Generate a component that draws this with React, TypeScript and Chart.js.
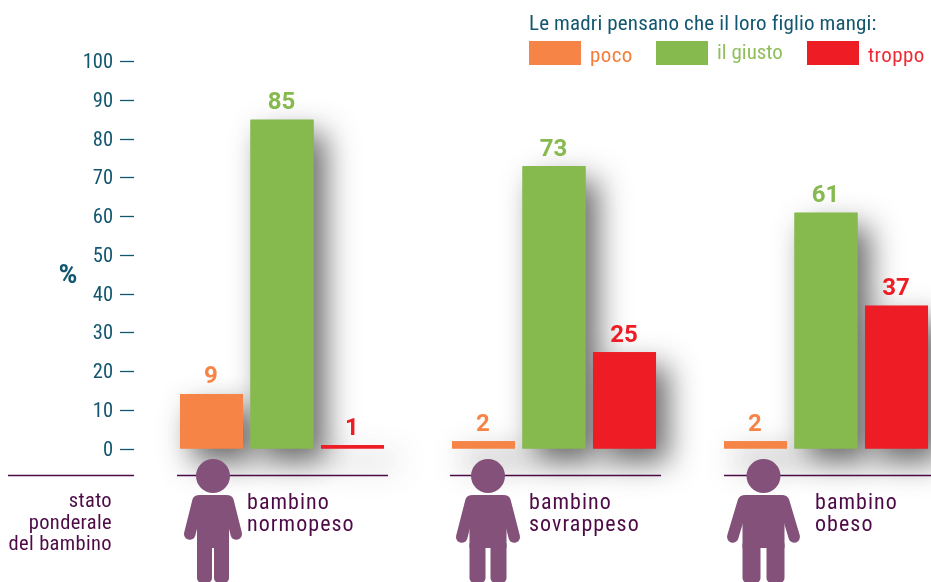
import React, { useEffect, useRef } from "react";
import { Chart, registerables } from "chart.js";

Chart.register(...registerables);

const groupPositions = [1, 2, 3];
const seriesNames = ["poco", "il giusto", "troppo"];
// Bar heights as drawn in the picture (the first orange bar is drawn taller than its printed "9").
const pocoValues = [14.2, 2, 2];
const giustoValues = [85, 73, 61];
const troppoValues = [1, 25, 37];
// Numbers as printed above the bars.
const pocoLabels = [9, 2, 2];
const giustoLabels = [85, 73, 61];
const troppoLabels = [1, 25, 37];
const printedLabels = [pocoLabels, giustoLabels, troppoLabels];
const seriesColors = ["#f68446", "#86b94e", "#ee1d25"];
const legendTextColors = ["#f47c3c", "#8fbf5a", "#ee2a35"];
const yTickMax = 100;
const yTickStep = 10;
const legendTitle = "Le madri pensano che il loro figlio mangi:";
const yTitle = "%";
const rowTitle = ["stato", "ponderale", "del bambino"];
const groupLabels = [
  ["bambino", "normopeso"],
  ["bambino", "sovrappeso"],
  ["bambino", "obeso"],
];

const TEAL = "#12566f";
const PURPLE = "#4d0a47";
const FIGURE = "#84517a";
const NARROW = '"Roboto Condensed", "Liberation Sans Narrow", sans-serif';
const BOLD = 'Roboto, "Liberation Sans", sans-serif';

const groupStep = 272;
const firstCenter = 282;
const plotLeft = 134;
const plotRight = 931;

const labelOffsets = [-35, -25, -11];
const baselineSpans = [
  [8, 134],
  [177, 388],
  [450, 661],
  [724, 931],
];
const figures = [
  { cx: 213, sh: 19, arm: 29, torso: 16, gap: 1, hand: 534 },
  { cx: 488, sh: 21, arm: 32, torso: 18.5, gap: 2.5, hand: 537 },
  { cx: 763.5, sh: 24, arm: 36.5, torso: 21, gap: 3, hand: 537 },
];

function drawFigure(ctx: CanvasRenderingContext2D, f: (typeof figures)[number]) {
  ctx.save();
  ctx.fillStyle = FIGURE;
  ctx.strokeStyle = FIGURE;
  ctx.beginPath();
  ctx.arc(f.cx, 476, 17, 0, Math.PI * 2);
  ctx.fill();
  ctx.beginPath();
  ctx.roundRect(f.cx - f.sh, 495, f.sh * 2, 16, 6);
  ctx.fill();
  ctx.fillRect(f.cx - f.torso, 500, f.torso * 2, 48);
  ctx.lineWidth = 11.5;
  ctx.lineCap = "round";
  for (const s of [-1, 1]) {
    ctx.beginPath();
    ctx.moveTo(f.cx + s * (f.sh - 4), 501);
    ctx.lineTo(f.cx + s * (f.arm - 5.75), f.hand);
    ctx.stroke();
  }
  for (const s of [-1, 1]) {
    const x = s < 0 ? f.cx - f.torso : f.cx + f.gap;
    const w = f.torso - f.gap;
    ctx.beginPath();
    ctx.roundRect(x, 540, w, 43, 5);
    ctx.fill();
  }
  ctx.restore();
}

function text(
  ctx: CanvasRenderingContext2D,
  s: string,
  x: number,
  y: number,
  font: string,
  color: string,
  align: CanvasTextAlign = "left",
  spacing = "0px",
) {
  ctx.font = font;
  ctx.fillStyle = color;
  ctx.textAlign = align;
  ctx.textBaseline = "alphabetic";
  (ctx as any).letterSpacing = spacing;
  ctx.fillText(s, x, y);
  (ctx as any).letterSpacing = "0px";
}

const shadowPlugin = {
  id: "barShadows",
  beforeDatasetsDraw(chart: any) {
    const ctx = chart.ctx;
    ctx.save();
    ctx.shadowColor = "rgba(40,40,40,0.7)";
    ctx.shadowBlur = 30;
    ctx.shadowOffsetX = 12;
    ctx.shadowOffsetY = 14;
    chart.data.datasets.forEach((ds: any, i: number) => {
      chart.getDatasetMeta(i).data.forEach((bar: any) => {
        ctx.fillStyle = seriesColors[i];
        ctx.fillRect(bar.x - bar.width / 2, bar.y, bar.width, bar.base - bar.y);
      });
    });
    ctx.restore();
  },
};

const decorPlugin = {
  id: "decor",
  afterDraw(chart: any) {
    const ctx = chart.ctx;
    const xs = chart.scales.x;
    ctx.save();
    // value labels
    chart.data.datasets.forEach((ds: any, i: number) => {
      chart.getDatasetMeta(i).data.forEach((bar: any, j: number) => {
        text(ctx, String(printedLabels[i][j]), bar.x - 0.5, bar.y - 10.5, `700 24px ${BOLD}`, seriesColors[i], "center");
      });
    });
    // baselines
    ctx.strokeStyle = PURPLE;
    ctx.lineWidth = 1.5;
    baselineSpans.forEach(([a, b]) => {
      ctx.beginPath();
      ctx.moveTo(a, 475.5);
      ctx.lineTo(b, 475.5);
      ctx.stroke();
    });
    figures.forEach((f) => drawFigure(ctx, f));
    // group labels
    groupLabels.forEach((lines, i) => {
      const x = xs.getPixelForValue(groupPositions[i]) + labelOffsets[i];
      lines.forEach((l, k) => text(ctx, l, x, 509 + k * 22, `22px ${NARROW}`, PURPLE, "left", "1.05px"));
    });
    rowTitle.forEach((l, k) => text(ctx, l, 112, 507 + k * 21.7, `20.5px ${NARROW}`, PURPLE, "right", "0.35px"));
    text(ctx, yTitle, 68, 283, `800 25px ${BOLD}`, TEAL, "center");
    // legend
    text(ctx, legendTitle, 529, 30, `21px ${NARROW}`, TEAL, "left", "0.15px");
    const swatchX = [529, 656, 807];
    const textX = [590, 717, 868];
    const textY = [62, 59, 62];
    const textSpacing = ["0.4px", "0px", "0.4px"];
    seriesNames.forEach((n, i) => {
      ctx.fillStyle = seriesColors[i];
      ctx.fillRect(swatchX[i], 41, 52, 24);
      text(ctx, n, textX[i], textY[i], `21px ${NARROW}`, legendTextColors[i], "left", textSpacing[i]);
    });
    ctx.restore();
  },
};

function points(values: number[]) {
  return values.map((y, i) => ({ x: groupPositions[i], y }));
}

export default function App() {
  const ref = useRef<HTMLCanvasElement>(null);
  useEffect(() => {
    document.body.style.margin = "0";
    const chart = new Chart(ref.current!, {
      type: "bar",
      data: {
        datasets: [pocoValues, giustoValues, troppoValues].map((v, i) => ({
          label: seriesNames[i],
          data: points(v),
          backgroundColor: seriesColors[i],
          categoryPercentage: 0.7776,
          barPercentage: 0.894,
        })),
      },
      options: {
        animation: false,
        responsive: false,
        devicePixelRatio: 1,
        layout: { padding: { top: 61.5, bottom: 133, left: 0, right: 0 } },
        plugins: { legend: { display: false }, tooltip: { enabled: false } },
        scales: {
          x: {
            type: "linear",
            offset: false,
            min: 1 - (firstCenter - plotLeft) / groupStep,
            max: 1 + (plotRight - firstCenter) / groupStep,
            display: false,
            grid: { display: false },
            ticks: { stepSize: 1, includeBounds: false },
          },
          y: {
            min: 0,
            max: yTickMax,
            afterFit(scale: any) {
              scale.width = plotLeft;
            },
            border: { display: false },
            grid: {
              drawOnChartArea: false,
              drawTicks: true,
              tickLength: 14,
              tickColor: TEAL,
              tickWidth: 1.3,
            },
            ticks: {
              stepSize: yTickStep,
              padding: 7,
              labelOffset: 1.5,
              color: TEAL,
              font: { family: NARROW, size: 20.5 },
            },
          },
        },
      },
      plugins: [shadowPlugin, decorPlugin],
    } as any);
    return () => chart.destroy();
  }, []);
  return (
    <div style={{ width: 931, height: 582, overflow: "hidden", background: "#fff" }}>
      <canvas ref={ref} width={931} height={582} style={{ display: "block" }} />
    </div>
  );
}
